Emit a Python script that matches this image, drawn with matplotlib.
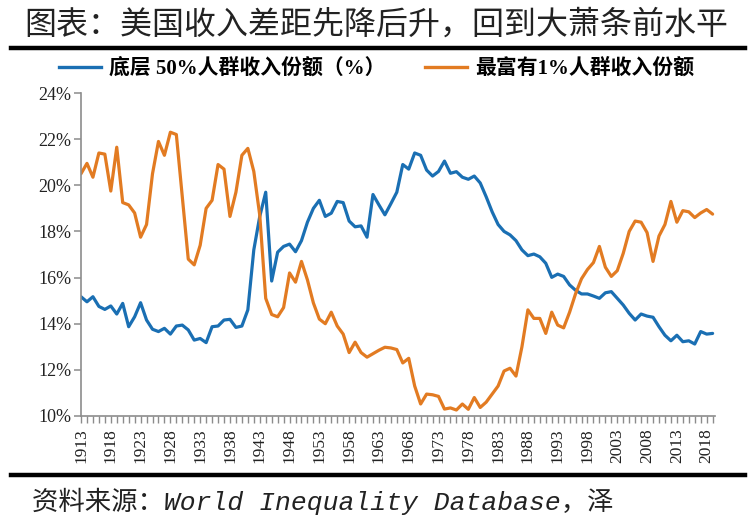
import matplotlib
matplotlib.use("Agg")
import matplotlib.pyplot as plt
from matplotlib.lines import Line2D
import numpy as np

years = list(range(1913, 2020))

bottom50 = [
    15.17, 14.95, 15.17, 14.75, 14.62, 14.77, 14.42, 14.88, 13.87, 14.30,  # 1913-1922
    14.91, 14.16, 13.76, 13.66, 13.80, 13.55, 13.90, 13.94, 13.73, 13.29,  # 1923-1932
    13.36, 13.18, 13.87, 13.90, 14.16, 14.19, 13.84, 13.90, 14.60, 17.20,  # 1933-1942
    18.65, 19.70, 15.85, 17.10, 17.35, 17.45, 17.12, 17.60, 18.40, 19.00,  # 1943-1952
    19.35, 18.65, 18.79, 19.30, 19.25, 18.45, 18.20, 18.24, 17.75, 19.60,  # 1953-1962
    19.15, 18.72, 19.20, 19.70, 20.90, 20.70, 21.40, 21.30, 20.66, 20.40,  # 1963-1972
    20.60, 21.05, 20.52, 20.59, 20.35, 20.26, 20.40, 20.10, 19.50, 18.85,  # 1973-1982
    18.30, 18.00, 17.85, 17.60, 17.20, 16.95, 17.02, 16.90, 16.62, 16.01,  # 1983-1992
    16.15, 16.05, 15.68, 15.45, 15.29, 15.29, 15.20, 15.10, 15.34, 15.39,  # 1993-2002
    15.10, 14.81, 14.45, 14.16, 14.42, 14.33, 14.28, 13.87, 13.50, 13.26,  # 2003-2012
    13.50, 13.22, 13.26, 13.12, 13.66, 13.55, 13.58,                       # 2013-2019
]

top1 = [
    20.50, 20.95, 20.35, 21.40, 21.35, 19.75, 21.65, 19.25, 19.15, 18.80,  # 1913-1922
    17.75, 18.30, 20.50, 21.90, 21.30, 22.30, 22.20, 19.50, 16.80, 16.55,  # 1923-1932
    17.40, 19.00, 19.35, 20.90, 20.70, 18.65, 19.70, 21.30, 21.60, 20.60,  # 1933-1942
    18.70, 15.10, 14.40, 14.30, 14.70, 16.20, 15.80, 16.70, 15.90, 14.90,  # 1943-1952
    14.20, 14.00, 14.50, 13.90, 13.55, 12.75, 13.20, 12.75, 12.55, 12.70,  # 1953-1962
    12.85, 12.98, 12.95, 12.88, 12.30, 12.50, 11.30, 10.52, 10.95, 10.92,  # 1963-1972
    10.85, 10.30, 10.35, 10.26, 10.52, 10.29, 10.80, 10.37, 10.60, 10.95,  # 1973-1982
    11.30, 11.95, 12.07, 11.73, 13.00, 14.60, 14.23, 14.23, 13.58, 14.50,  # 1983-1992
    13.94, 13.82, 14.50, 15.30, 15.95, 16.35, 16.65, 17.35, 16.45, 16.05,  # 1993-2002
    16.30, 17.05, 18.00, 18.45, 18.40, 17.95, 16.70, 17.80, 18.30, 19.30,  # 2003-2012
    18.40, 18.90, 18.85, 18.60, 18.80, 18.95, 18.75,                       # 2013-2019
]

y_ticks = [10, 12, 14, 16, 18, 20, 22, 24]
x_label_years = list(range(1913, 2019, 5))

title = "图表：美国收入差距先降后升，回到大萧条前水平"
label_b = "底层 50%人群收入份额（%）"
label_t = "最富有1%人群收入份额"
source = "资料来源：World Inequality Database，泽"

BLUE = "#1a6fb3"
ORANGE = "#e27b22"

plt.rcParams['font.family'] = ['Liberation Serif', 'Noto Sans CJK SC', 'DejaVu Sans']

fig = plt.figure(figsize=(7.52, 5.27), dpi=100)
ax = fig.add_axes([81/752, 1-416/527, (715-81)/752, (416-93)/527])

ax.plot(years, bottom50, color=BLUE, lw=2.3, solid_joinstyle='round', solid_capstyle='round')
ax.plot(years, top1, color=ORANGE, lw=2.3, solid_joinstyle='round', solid_capstyle='round')

ax.set_xlim(1913, 2019.4)
ax.set_ylim(10, 24)
ax.set_yticks(y_ticks)
ax.set_yticklabels([f"{v}%" for v in y_ticks], fontsize=13, color='#222222')
ax.set_xticks(years, minor=True)
ax.set_xticks(x_label_years)
ax.set_xticklabels([str(y) for y in x_label_years], rotation=90, fontsize=12.5, color='#222222')

for s in ['top', 'right']:
    ax.spines[s].set_visible(False)
for s in ['left', 'bottom']:
    ax.spines[s].set_color('#8c8c8c')
    ax.spines[s].set_linewidth(1.2)
ax.tick_params(axis='y', direction='out', length=5, width=1.1, color='#8c8c8c', pad=2)
ax.tick_params(axis='x', which='both', direction='out', length=5, width=1.0, color='#8c8c8c', pad=4)

# title
fig.text(376/752, 1-25/527, title, ha='center', va='center', fontsize=23,
         family=['Noto Sans CJK SC'], fontweight='light', color='#222222')
# rules
fig.add_artist(Line2D([11/752, 745/752], [1-48/527, 1-48/527], color='black', lw=3.2))
fig.add_artist(Line2D([11/752, 745/752], [1-475/527, 1-475/527], color='black', lw=3.2))

# legend
handles = [Line2D([], [], color=BLUE, lw=2.4), Line2D([], [], color=ORANGE, lw=2.4)]
leg = fig.legend(handles, [label_b, label_t], loc='center left',
                 bbox_to_anchor=(59/752, 1-69/527), ncol=2, frameon=False,
                 handlelength=2.0, handletextpad=0.4, columnspacing=1.9,
                 borderpad=0.0, borderaxespad=0.0,
                 prop={'size': 15, 'weight': 'bold',
                       'family': ['Liberation Serif', 'Noto Sans CJK SC']})

# source
fig.text(32/752, 1-501/527, source, ha='left', va='center', fontsize=19, style='italic',
         family=['Liberation Mono', 'Noto Sans CJK SC'], color='#222222')

fig.savefig("out.png", dpi=100)
